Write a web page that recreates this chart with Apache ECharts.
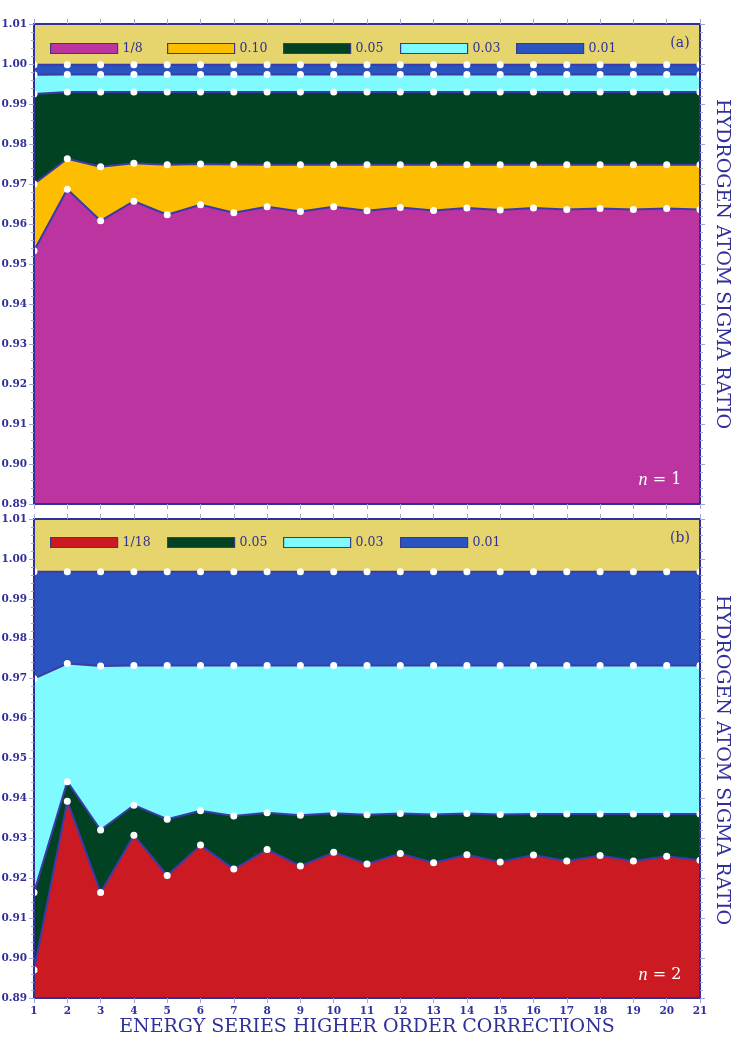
<!DOCTYPE html>
<html>
<head>
<meta charset="utf-8">
<script src="https://cdn.jsdelivr.net/npm/echarts@6/dist/echarts.min.js"></script>
<style>
html,body{margin:0;padding:0;background:#fff;}
#c{width:735px;height:1041px;}
</style>
</head>
<body>
<div id="c"></div>
<script>
// ---- data ----
const categories = ['1','2','3','4','5','6','7','8','9','10','11','12','13','14','15','16','17','18','19','20','21'];
const yTickLabels = ['0.89','0.90','0.91','0.92','0.93','0.94','0.95','0.96','0.97','0.98','0.99','1.00','1.01'];

// panel (a), n = 1
const a_names = ['1/8','0.10','0.05','0.03','0.01'];
const a_18 = [0.9533,0.9687,0.9608,0.9657,0.9623,0.9648,0.9628,0.9643,0.9631,0.9643,0.9633,0.9641,0.9634,0.9640,0.9635,0.9640,0.9636,0.9639,0.9636,0.9639,0.9636];
const a_010 = [0.9700,0.9763,0.9743,0.9752,0.9748,0.9750,0.9749,0.9748,0.9748,0.9748,0.9748,0.9748,0.9748,0.9748,0.9748,0.9748,0.9748,0.9748,0.9748,0.9748,0.9748];
const a_005 = [0.9925,0.9930,0.9930,0.9930,0.9930,0.9930,0.9930,0.9930,0.9930,0.9930,0.9930,0.9930,0.9930,0.9930,0.9930,0.9930,0.9930,0.9930,0.9930,0.9930,0.9930];
const a_003 = [0.9973,0.9974,0.9974,0.9974,0.9974,0.9974,0.9974,0.9974,0.9974,0.9974,0.9974,0.9974,0.9974,0.9974,0.9974,0.9974,0.9974,0.9974,0.9974,0.9974,0.9974];
const a_001 = [0.9998,0.9998,0.9998,0.9998,0.9998,0.9998,0.9998,0.9998,0.9998,0.9998,0.9998,0.9998,0.9998,0.9998,0.9998,0.9998,0.9998,0.9998,0.9998,0.9998,0.9998];

// panel (b), n = 2
const b_names = ['1/18','0.05','0.03','0.01'];
const b_118 = [0.8970,0.9393,0.9164,0.9308,0.9207,0.9283,0.9223,0.9272,0.9231,0.9265,0.9236,0.9262,0.9239,0.9259,0.9241,0.9258,0.9243,0.9257,0.9243,0.9255,0.9245];
const b_005 = [0.9164,0.9442,0.9321,0.9383,0.9348,0.9369,0.9356,0.9364,0.9358,0.9363,0.9359,0.9362,0.9360,0.9362,0.9360,0.9361,0.9361,0.9361,0.9361,0.9361,0.9361];
const b_003 = [0.9700,0.9738,0.9732,0.9733,0.9733,0.9733,0.9733,0.9733,0.9733,0.9733,0.9733,0.9733,0.9733,0.9733,0.9733,0.9733,0.9733,0.9733,0.9733,0.9733,0.9733];
const b_001 = [0.9968,0.9968,0.9968,0.9968,0.9968,0.9968,0.9968,0.9968,0.9968,0.9968,0.9968,0.9968,0.9968,0.9968,0.9968,0.9968,0.9968,0.9968,0.9968,0.9968,0.9968];

// ---- style ----
const DARK = '#30309a';
const LINE = '#3b3ba8';
const TICK = '#a3a3d6';
const BG = '#e6d46c';
const SERIF = '"DejaVu Serif", "Liberation Serif", serif';
const TSERIF = '"Liberation Serif", serif';
const COL = {magenta:'#bb34a0', yellow:'#fdbd00', green:'#004222', cyan:'#7ffaff', blue:'#2a55c0', red:'#cc1a22'};

function mkSeries(name, data, fill, xi, yi) {
  return {
    type:'line', name:name, data:data, xAxisIndex:xi, yAxisIndex:yi,
    symbol:'circle', symbolSize:7, showSymbol:true,
    lineStyle:{color:LINE, width:2},
    itemStyle:{color:'#ffffff', borderWidth:0},
    areaStyle:{color:fill, opacity:1, origin:'start'},
    emphasis:{disabled:true}, animation:false, z:2
  };
}

function mkLegend(name, fill, left, top) {
  return {
    data:[{name:name, icon:'rect', itemStyle:{color:fill, borderColor:'#3a3a8c', borderWidth:1.2}}],
    left:left, top:top, padding:0, itemWidth:67, itemHeight:10,
    selectedMode:false,
    textStyle:{color:DARK, fontFamily:SERIF, fontSize:12.5}
  };
}

function xAx(gi, pos, labels) {
  return {
    gridIndex:gi, type:'category', data:categories, boundaryGap:false, position:pos, z:3,
    axisLine:{show:true, lineStyle:{color:DARK, width:2}},
    axisTick:{show:true, inside:false, length:5, interval:0, lineStyle:{color:TICK, width:1}},
    axisLabel:{show:labels, interval:0, color:DARK, fontFamily:SERIF, fontWeight:'bold', fontSize:10.5, margin:8},
    splitLine:{show:false}
  };
}
function yAx(gi, pos, labels) {
  return {
    gridIndex:gi, type:'value', min:0.89, max:1.01, interval:0.01, position:pos, z:3,
    axisLine:{show:true, lineStyle:{color:DARK, width:2}},
    axisTick:{show:true, inside:false, length:5, lineStyle:{color:TICK, width:1}},
    minorTick:{show:true, splitNumber:5, length:3, lineStyle:{color:TICK, width:1}},
    axisLabel:{show:labels, color:DARK, fontFamily:SERIF, fontWeight:'bold', fontSize:10.5, margin:7,
      formatter:function(v){ const s=v.toFixed(2); return yTickLabels.indexOf(s)>=0 ? s : ''; }},
    splitLine:{show:false}
  };
}

const chart = echarts.init(document.getElementById('c'), null, {renderer:'canvas'});
chart.setOption({
  animation:false,
  backgroundColor:'#ffffff',
  grid:[
    {left:34, top:24, width:666, height:480, show:true, backgroundColor:BG, borderWidth:0, containLabel:false, outerBoundsMode:'none'},
    {left:34, top:519, width:666, height:479, show:true, backgroundColor:BG, borderWidth:0, containLabel:false, outerBoundsMode:'none'}
  ],
  xAxis:[xAx(0,'bottom',false), xAx(0,'top',false), xAx(1,'bottom',true), xAx(1,'top',false)],
  yAxis:[yAx(0,'left',true), yAx(0,'right',false), yAx(1,'left',true), yAx(1,'right',false)],
  legend:[
    mkLegend(a_names[0], COL.magenta, 50, 42),
    mkLegend(a_names[1], COL.yellow, 167, 42),
    mkLegend(a_names[2], COL.green, 283, 42),
    mkLegend(a_names[3], COL.cyan, 400, 42),
    mkLegend(a_names[4], COL.blue, 516, 42),
    mkLegend(b_names[0], COL.red, 50, 536),
    mkLegend(b_names[1], COL.green, 167, 536),
    mkLegend(b_names[2], COL.cyan, 283, 536),
    mkLegend(b_names[3], COL.blue, 400, 536)
  ],
  series:[
    mkSeries(a_names[4], a_001, COL.blue, 0, 0),
    mkSeries(a_names[3], a_003, COL.cyan, 0, 0),
    mkSeries(a_names[2], a_005, COL.green, 0, 0),
    mkSeries(a_names[1], a_010, COL.yellow, 0, 0),
    mkSeries(a_names[0], a_18, COL.magenta, 0, 0),
    mkSeries(b_names[3], b_001, COL.blue, 2, 2),
    mkSeries(b_names[2], b_003, COL.cyan, 2, 2),
    mkSeries(b_names[1], b_005, COL.green, 2, 2),
    mkSeries(b_names[0], b_118, COL.red, 2, 2)
  ],
  graphic:[
    {type:'text', x:680, y:43, z:10, style:{text:'(a)', fill:DARK, font:'14px '+SERIF, textAlign:'center', textVerticalAlign:'middle'}},
    {type:'text', x:680, y:538, z:10, style:{text:'(b)', fill:DARK, font:'14px '+SERIF, textAlign:'center', textVerticalAlign:'middle'}},
    {type:'text', x:660, y:480, z:10, style:{text:'{i|n} = 1', fill:'#ffffff', font:'16px '+SERIF, textAlign:'center', textVerticalAlign:'middle',
      rich:{i:{fontStyle:'italic', fontFamily:TSERIF, fontSize:18, fill:'#ffffff'}}}},
    {type:'text', x:660, y:975, z:10, style:{text:'{i|n} = 2', fill:'#ffffff', font:'16px '+SERIF, textAlign:'center', textVerticalAlign:'middle',
      rich:{i:{fontStyle:'italic', fontFamily:TSERIF, fontSize:18, fill:'#ffffff'}}}},
    {type:'text', x:722, y:264, rotation:-Math.PI/2, z:10, style:{text:'HYDROGEN ATOM SIGMA RATIO', fill:DARK, font:'19px '+SERIF, textAlign:'center', textVerticalAlign:'middle'}},
    {type:'text', x:722, y:760, rotation:-Math.PI/2, z:10, style:{text:'HYDROGEN ATOM SIGMA RATIO', fill:DARK, font:'19px '+SERIF, textAlign:'center', textVerticalAlign:'middle'}},
    {type:'text', x:367, y:1027, z:10, style:{text:'ENERGY SERIES HIGHER ORDER CORRECTIONS', fill:DARK, font:'19px '+SERIF, textAlign:'center', textVerticalAlign:'middle'}}
  ]
});
</script>
</body>
</html>
